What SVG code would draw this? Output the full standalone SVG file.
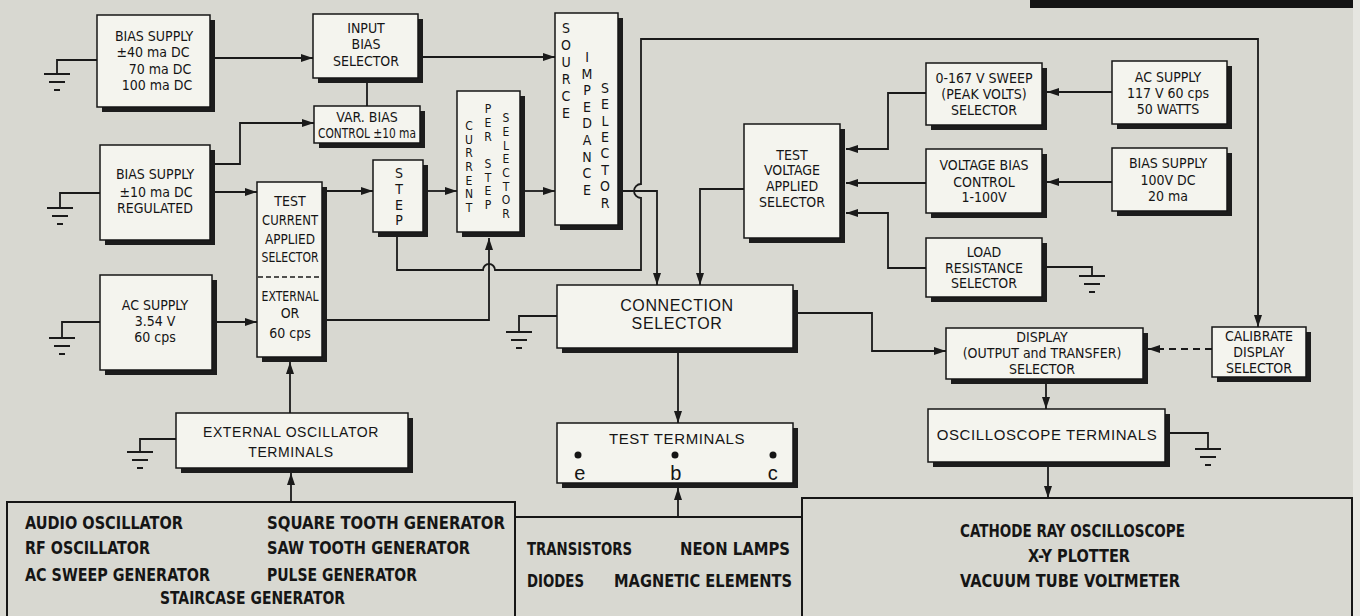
<svg xmlns="http://www.w3.org/2000/svg" width="1360" height="616" viewBox="0 0 1360 616">
<style>
.bx{fill:#f4f4ee;stroke:#161616;stroke-width:1.5}
.sh{fill:#1c1c1c}
.ob{fill:none;stroke:#161616;stroke-width:2}
.t{font-family:"Liberation Sans Narrow","DejaVu Sans Condensed","Liberation Sans",sans-serif;font-size:14px;fill:#151515;text-anchor:middle}
.v{font-family:"Liberation Sans Narrow","DejaVu Sans Condensed","Liberation Sans",sans-serif;font-size:14px;fill:#151515;text-anchor:middle}
.vs{font-family:"Liberation Sans Narrow","DejaVu Sans Condensed","Liberation Sans",sans-serif;font-size:12px;fill:#151515;text-anchor:middle}
.g{font-family:"Liberation Sans","DejaVu Sans",sans-serif;font-size:15px;fill:#151515;text-anchor:middle;letter-spacing:0.6px}
.bt{font-family:"Liberation Sans Narrow","DejaVu Sans Condensed","Liberation Sans",sans-serif;font-size:18px;font-weight:bold;fill:#151515}
.ln{fill:none;stroke:#1a1a1a;stroke-width:1.8}
.gd{stroke:#1a1a1a;stroke-width:2}
</style>
<defs>
<marker id="ah" viewBox="0 0 12 8" refX="12" refY="4" markerWidth="12" markerHeight="8" markerUnits="userSpaceOnUse" orient="auto"><path d="M0,0 L12,4 L0,8 z" fill="#1a1a1a"/></marker>
<g id="gnd"><line class="gd" x1="-13" y1="0" x2="13" y2="0"/><line class="gd" x1="-8" y1="8" x2="8" y2="8"/><line class="gd" x1="-3" y1="16" x2="3" y2="16"/></g>
</defs>
<rect x="0" y="0" width="1360" height="616" fill="#d8d8d1"/>
<rect x="1353" y="0" width="7" height="616" fill="#e6e6e1"/>
<rect x="1030" y="0" width="323" height="8" fill="#141414"/>

<g id="connectors">
<path class="ln" d="M97,60 H57 V74"/><use href="#gnd" x="57" y="74"/>
<path class="ln" d="M210,58 H313" marker-end="url(#ah)"/>
<path class="ln" d="M367,83 V106"/>
<path class="ln" d="M210,164 H240 V123 H314" marker-end="url(#ah)"/>
<path class="ln" d="M100,193 H60 V208"/><use href="#gnd" x="60" y="208"/>
<path class="ln" d="M215,192 H257" marker-end="url(#ah)"/>
<path class="ln" d="M217,322 H257" marker-end="url(#ah)"/>
<path class="ln" d="M100,322 H62 V338"/><use href="#gnd" x="62" y="338"/>
<path class="ln" d="M327,191 H373" marker-end="url(#ah)"/>
<path class="ln" d="M428,191 H457" marker-end="url(#ah)"/>
<path class="ln" d="M525,191 H555" marker-end="url(#ah)"/>
<path class="ln" d="M423,57 H555" marker-end="url(#ah)"/>
<path class="ln" d="M327,320 H489 V238" marker-end="url(#ah)"/>
<path class="ln" d="M397,237 V270 H483 A6,6 0 0 1 495,270 H641 V198 A7,7 0 0 1 641,184 V39 H1258 V327" marker-end="url(#ah)"/>
<path class="ln" d="M623,191 H657 V285" marker-end="url(#ah)"/>
<path class="ln" d="M744,189 H700 V285" marker-end="url(#ah)"/>
<path class="ln" d="M926,93 H888 V149 H846" marker-end="url(#ah)"/>
<path class="ln" d="M926,183 H846" marker-end="url(#ah)"/>
<path class="ln" d="M926,268 H888 V213 H846" marker-end="url(#ah)"/>
<path class="ln" d="M1047,267 H1092 V276"/><use href="#gnd" x="1092" y="276"/>
<path class="ln" d="M1112,92 H1047" marker-end="url(#ah)"/>
<path class="ln" d="M1112,182 H1047" marker-end="url(#ah)"/>
<path class="ln" d="M557,316 H519 V332"/><use href="#gnd" x="519" y="332"/>
<path class="ln" d="M798,313 H872 V351 H946" marker-end="url(#ah)"/>
<path class="ln" d="M678,353 V423" marker-end="url(#ah)"/>
<path class="ln" d="M1212,349 H1148" stroke-dasharray="7,5" marker-end="url(#ah)"/>
<path class="ln" d="M1046,384 V409" marker-end="url(#ah)"/>
<path class="ln" d="M1170,433 H1208 V449"/><use href="#gnd" x="1208" y="449"/>
<path class="ln" d="M1048,467 V498" marker-end="url(#ah)"/>
<path class="ln" d="M290,413 V362" marker-end="url(#ah)"/>
<path class="ln" d="M176,439 H140 V452"/><use href="#gnd" x="140" y="452"/>
<path class="ln" d="M291,502 V473" marker-end="url(#ah)"/>
<path class="ln" d="M678,517 V488" marker-end="url(#ah)"/>
</g>

<g id="bias-supply-40">
<rect class="sh" x="102" y="20" width="113" height="92"/><rect class="bx" x="97" y="15" width="113" height="92"/>
<text class="t" x="154" y="41">BIAS SUPPLY</text><text class="t" x="153" y="57">±40 ma DC</text><text class="t" x="160" y="74">70 ma DC</text><text class="t" x="157" y="90">100 ma DC</text>
</g>
<g id="input-bias-selector">
<rect class="sh" x="318" y="19" width="105" height="64"/><rect class="bx" x="313" y="14" width="105" height="64"/>
<text class="t" x="366" y="33">INPUT</text><text class="t" x="366" y="49">BIAS</text><text class="t" x="366" y="66">SELECTOR</text>
</g>
<g id="var-bias-control">
<rect class="sh" x="319" y="111" width="106" height="37"/><rect class="bx" x="314" y="106" width="106" height="37"/>
<text class="t" x="367" y="122">VAR. BIAS</text><text class="t" x="367" y="138" textLength="98" lengthAdjust="spacingAndGlyphs">CONTROL  ±10 ma</text>
</g>
<g id="bias-supply-10">
<rect class="sh" x="105" y="150" width="110" height="95"/><rect class="bx" x="100" y="145" width="110" height="95"/>
<text class="t" x="155" y="179">BIAS SUPPLY</text><text class="t" x="156" y="197">±10 ma DC</text><text class="t" x="155" y="213">REGULATED</text>
</g>
<g id="test-current-applied-selector">
<rect class="sh" x="262" y="187" width="65" height="175"/><rect class="bx" x="257" y="182" width="65" height="175"/>
<line x1="258" y1="277" x2="321" y2="277" stroke="#1a1a1a" stroke-width="1.5" stroke-dasharray="5,3"/>
<text class="t" x="290" y="206">TEST</text><text class="t" x="290" y="225" textLength="56" lengthAdjust="spacingAndGlyphs">CURRENT</text><text class="t" x="290" y="244" textLength="50" lengthAdjust="spacingAndGlyphs">APPLIED</text><text class="t" x="290" y="262" textLength="57" lengthAdjust="spacingAndGlyphs">SELECTOR</text>
<text class="t" x="290" y="301" textLength="57" lengthAdjust="spacingAndGlyphs">EXTERNAL</text><text class="t" x="290" y="318">OR</text><text class="t" x="290" y="338">60 cps</text>
</g>
<g id="ac-supply-354">
<rect class="sh" x="105" y="280" width="112" height="95"/><rect class="bx" x="100" y="275" width="112" height="95"/>
<text class="t" x="155" y="310">AC SUPPLY</text><text class="t" x="155" y="326">3.54 V</text><text class="t" x="155" y="342">60 cps</text>
</g>
<g id="step">
<rect class="sh" x="378" y="165" width="50" height="72"/><rect class="bx" x="373" y="160" width="50" height="72"/>
<text class="v"><tspan x="399" y="178">S</tspan><tspan x="399" y="194">T</tspan><tspan x="399" y="210">E</tspan><tspan x="399" y="225">P</tspan></text>
</g>
<g id="current-per-step-selector">
<rect class="sh" x="462" y="96" width="63" height="141"/><rect class="bx" x="457" y="91" width="63" height="141"/>
<text class="vs"><tspan x="469" y="130">C</tspan><tspan x="469" y="144">U</tspan><tspan x="469" y="157">R</tspan><tspan x="469" y="171">R</tspan><tspan x="469" y="185">E</tspan><tspan x="469" y="198">N</tspan><tspan x="469" y="212">T</tspan></text>
<text class="vs"><tspan x="488" y="113">P</tspan><tspan x="488" y="127">E</tspan><tspan x="488" y="141">R</tspan><tspan x="488" y="168">S</tspan><tspan x="488" y="182">T</tspan><tspan x="488" y="195">E</tspan><tspan x="488" y="209">P</tspan></text>
<text class="vs"><tspan x="506" y="122">S</tspan><tspan x="506" y="136">E</tspan><tspan x="506" y="150">L</tspan><tspan x="506" y="163">E</tspan><tspan x="506" y="177">C</tspan><tspan x="506" y="191">T</tspan><tspan x="506" y="204">O</tspan><tspan x="506" y="218">R</tspan></text>
</g>
<g id="source-impedance-selector">
<rect class="sh" x="560" y="18" width="63" height="212"/><rect class="bx" x="555" y="13" width="63" height="212"/>
<text class="v"><tspan x="566" y="33">S</tspan><tspan x="566" y="50">O</tspan><tspan x="566" y="67">U</tspan><tspan x="566" y="84">R</tspan><tspan x="566" y="101">C</tspan><tspan x="566" y="118">E</tspan></text>
<text class="v"><tspan x="587" y="62">I</tspan><tspan x="587" y="79">M</tspan><tspan x="587" y="95">P</tspan><tspan x="587" y="112">E</tspan><tspan x="587" y="128">D</tspan><tspan x="587" y="145">A</tspan><tspan x="587" y="162">N</tspan><tspan x="587" y="178">C</tspan><tspan x="587" y="195">E</tspan></text>
<text class="v"><tspan x="605" y="93">S</tspan><tspan x="605" y="109">E</tspan><tspan x="605" y="126">L</tspan><tspan x="605" y="142">E</tspan><tspan x="605" y="158">C</tspan><tspan x="605" y="175">T</tspan><tspan x="605" y="191">O</tspan><tspan x="605" y="208">R</tspan></text>
</g>
<g id="test-voltage-applied-selector">
<rect class="sh" x="749" y="129" width="96" height="114"/><rect class="bx" x="744" y="124" width="96" height="114"/>
<text class="t" x="792" y="160">TEST</text><text class="t" x="792" y="175">VOLTAGE</text><text class="t" x="792" y="191">APPLIED</text><text class="t" x="792" y="207">SELECTOR</text>
</g>
<g id="sweep-selector">
<rect class="sh" x="931" y="68" width="116" height="62"/><rect class="bx" x="926" y="63" width="116" height="62"/>
<text class="t" x="984" y="83">0-167 V  SWEEP</text><text class="t" x="984" y="99">(PEAK VOLTS)</text><text class="t" x="984" y="115">SELECTOR</text>
</g>
<g id="voltage-bias-control">
<rect class="sh" x="931" y="154" width="116" height="64"/><rect class="bx" x="926" y="149" width="116" height="64"/>
<text class="t" x="984" y="170">VOLTAGE  BIAS</text><text class="t" x="984" y="187">CONTROL</text><text class="t" x="984" y="202">1-100V</text>
</g>
<g id="load-resistance-selector">
<rect class="sh" x="931" y="243" width="116" height="59"/><rect class="bx" x="926" y="238" width="116" height="59"/>
<text class="t" x="984" y="257">LOAD</text><text class="t" x="984" y="273">RESISTANCE</text><text class="t" x="984" y="288">SELECTOR</text>
</g>
<g id="ac-supply-117">
<rect class="sh" x="1117" y="66" width="115" height="63"/><rect class="bx" x="1112" y="61" width="115" height="63"/>
<text class="t" x="1168" y="82">AC SUPPLY</text><text class="t" x="1168" y="98">117 V  60 cps</text><text class="t" x="1168" y="114">50  WATTS</text>
</g>
<g id="bias-supply-100">
<rect class="sh" x="1117" y="153" width="115" height="63"/><rect class="bx" x="1112" y="148" width="115" height="63"/>
<text class="t" x="1168" y="168">BIAS SUPPLY</text><text class="t" x="1168" y="185">100V  DC</text><text class="t" x="1168" y="201">20 ma</text>
</g>
<g id="connection-selector">
<rect class="sh" x="562" y="290" width="236" height="63"/><rect class="bx" x="557" y="285" width="236" height="63"/>
<text class="g" x="677" y="311" style="font-size:16px">CONNECTION</text><text class="g" x="677" y="329" style="font-size:16px">SELECTOR</text>
</g>
<g id="test-terminals">
<rect class="sh" x="562" y="428" width="236" height="60"/><rect class="bx" x="557" y="423" width="236" height="60"/>
<text class="g" x="677" y="444">TEST  TERMINALS</text>
<circle cx="578" cy="455" r="3.5" fill="#151515"/><circle cx="675" cy="455" r="3.5" fill="#151515"/><circle cx="773" cy="455" r="3.5" fill="#151515"/>
<text class="g" x="580" y="480" style="font-size:20px">e</text><text class="g" x="676" y="480" style="font-size:20px">b</text><text class="g" x="773" y="480" style="font-size:20px">c</text>
</g>
<g id="display-selector">
<rect class="sh" x="951" y="333" width="197" height="51"/><rect class="bx" x="946" y="328" width="197" height="51"/>
<text class="t" x="1042" y="342">DISPLAY</text><text class="t" x="1042" y="358">(OUTPUT and TRANSFER)</text><text class="t" x="1042" y="374">SELECTOR</text>
</g>
<g id="calibrate-display-selector">
<rect class="sh" x="1217" y="332" width="94" height="50"/><rect class="bx" x="1212" y="327" width="94" height="50"/>
<text class="t" x="1259" y="341">CALIBRATE</text><text class="t" x="1259" y="357">DISPLAY</text><text class="t" x="1259" y="373">SELECTOR</text>
</g>
<g id="oscilloscope-terminals">
<rect class="sh" x="933" y="414" width="237" height="53"/><rect class="bx" x="928" y="409" width="237" height="53"/>
<text class="g" x="1047" y="440">OSCILLOSCOPE  TERMINALS</text>
</g>
<g id="external-oscillator-terminals">
<rect class="sh" x="181" y="418" width="232" height="55"/><rect class="bx" x="176" y="413" width="232" height="55"/>
<text class="g" x="291" y="437" style="font-size:14px">EXTERNAL  OSCILLATOR</text><text class="g" x="291" y="457" style="font-size:14px">TERMINALS</text>
</g>

<g id="signal-sources">
<path class="ob" d="M7,616 V502 H515 V616"/>
<text class="bt" x="25" y="529" textLength="158" lengthAdjust="spacingAndGlyphs">AUDIO OSCILLATOR</text>
<text class="bt" x="267" y="529" textLength="238" lengthAdjust="spacingAndGlyphs">SQUARE TOOTH GENERATOR</text>
<text class="bt" x="25" y="554" textLength="125" lengthAdjust="spacingAndGlyphs">RF OSCILLATOR</text>
<text class="bt" x="267" y="554" textLength="203" lengthAdjust="spacingAndGlyphs">SAW TOOTH GENERATOR</text>
<text class="bt" x="25" y="581" textLength="185" lengthAdjust="spacingAndGlyphs">AC SWEEP GENERATOR</text>
<text class="bt" x="267" y="581" textLength="150" lengthAdjust="spacingAndGlyphs">PULSE GENERATOR</text>
<text class="bt" x="160" y="604" textLength="185" lengthAdjust="spacingAndGlyphs">STAIRCASE GENERATOR</text>
</g>
<g id="devices-under-test">
<path class="ob" d="M515,616 V517 H802 V616"/>
<text class="bt" x="527" y="555" textLength="105" lengthAdjust="spacingAndGlyphs">TRANSISTORS</text>
<text class="bt" x="680" y="555" textLength="110" lengthAdjust="spacingAndGlyphs">NEON LAMPS</text>
<text class="bt" x="527" y="587" textLength="57" lengthAdjust="spacingAndGlyphs">DIODES</text>
<text class="bt" x="614" y="587" textLength="178" lengthAdjust="spacingAndGlyphs">MAGNETIC ELEMENTS</text>
</g>
<g id="display-instruments">
<path class="ob" d="M802,616 V498 H1352 V616"/>
<text class="bt" x="960" y="537" textLength="225" lengthAdjust="spacingAndGlyphs">CATHODE RAY OSCILLOSCOPE</text>
<text class="bt" x="1028" y="562" textLength="102" lengthAdjust="spacingAndGlyphs">X-Y PLOTTER</text>
<text class="bt" x="960" y="587" textLength="220" lengthAdjust="spacingAndGlyphs">VACUUM TUBE VOLTMETER</text>
</g>
</svg>
